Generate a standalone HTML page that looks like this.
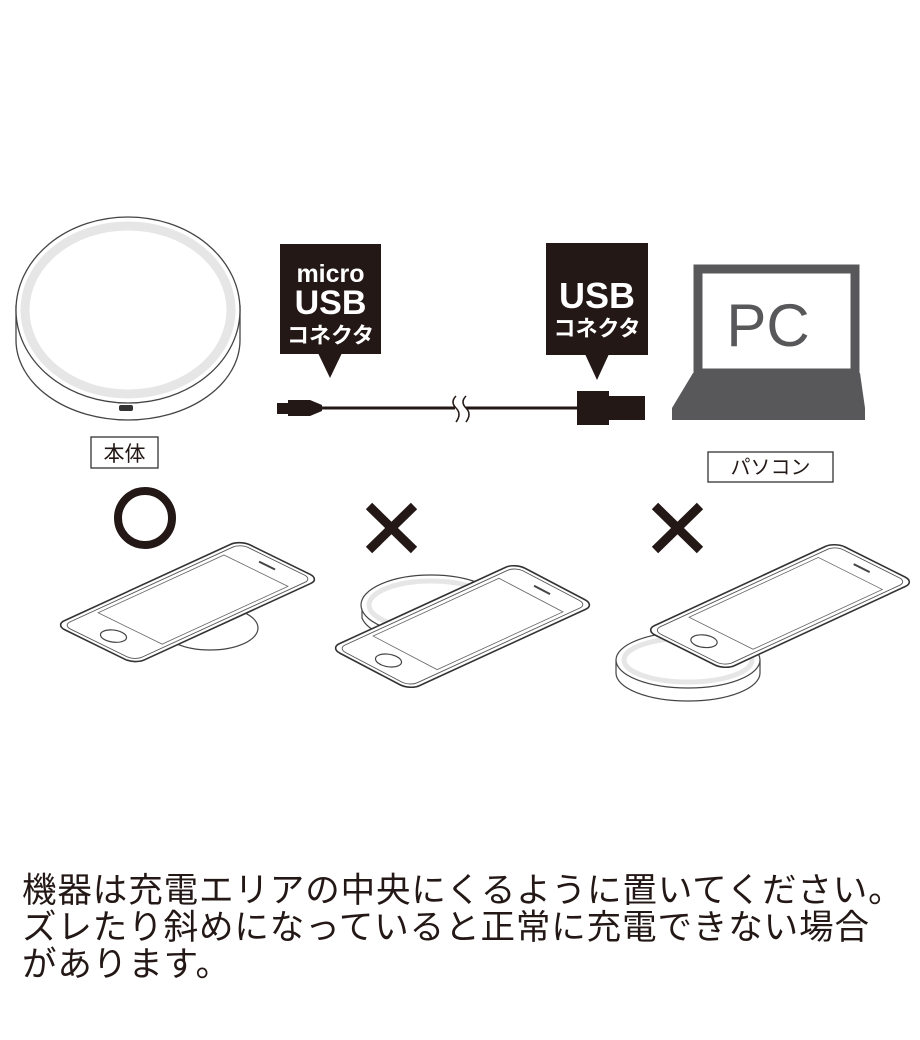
<!DOCTYPE html>
<html><head><meta charset="utf-8"><style>
body{margin:0;background:#fff;width:920px;height:1040px;overflow:hidden}
svg{position:absolute;left:0;top:0}
.t{position:absolute;left:22px;top:873px;font-family:"Liberation Sans","Noto Sans CJK JP",sans-serif;font-size:34.5px;line-height:37px;color:#231815;white-space:nowrap;letter-spacing:0.9px}
</style></head><body>
<svg width="920" height="1040" viewBox="0 0 920 1040" font-family="Liberation Sans, Noto Sans CJK JP, sans-serif">
<defs>
<g id="phone">
 <rect x="0" y="0" width="100" height="40" rx="5" fill="#fff" stroke="#333" stroke-width="1.6" vector-effect="non-scaling-stroke"/>
 <rect x="2" y="2" width="96" height="36" rx="4" fill="none" stroke="#555" stroke-width="0.9" vector-effect="non-scaling-stroke"/>
 <rect x="19" y="4" width="68" height="32" fill="none" stroke="#666" stroke-width="0.8" vector-effect="non-scaling-stroke"/>
 <ellipse cx="10" cy="20" rx="4.5" ry="5" fill="none" stroke="#444" stroke-width="1.2" vector-effect="non-scaling-stroke"/>
 <line x1="93" y1="16" x2="93" y2="24" stroke="#444" stroke-width="2" vector-effect="non-scaling-stroke"/>
</g>
</defs>
<path d="M16,305 L16,340 A112,80 0 0 0 240,340 L240,305" fill="#fff" stroke="#444" stroke-width="1.3"/>
<ellipse cx="128" cy="310" rx="112" ry="93" fill="#fff" stroke="#444" stroke-width="1.3"/>
<ellipse cx="128" cy="310" rx="103" ry="84" fill="none" stroke="#e6e6e6" stroke-width="9"/>
<rect x="119" y="405" width="14" height="6" rx="2" fill="#333"/>
<rect x="91" y="437" width="67" height="31" fill="#fff" stroke="#333" stroke-width="1.3"/>
<text x="124.5" y="461" font-size="21" text-anchor="middle" fill="#231815">本体</text>
<rect x="280" y="244" width="101" height="110" fill="#231815"/>
<polygon points="318,353 342,353 330,378" fill="#231815"/>
<text x="330.5" y="282" font-size="25" font-weight="bold" text-anchor="middle" fill="#fff">micro</text>
<text x="330.5" y="314" font-size="34" font-weight="bold" text-anchor="middle" fill="#fff">USB</text>
<text x="330.5" y="343" font-size="22" font-weight="bold" text-anchor="middle" fill="#fff">コネクタ</text>
<rect x="546" y="243" width="102" height="112" fill="#231815"/>
<polygon points="585,354 609,354 597,380" fill="#231815"/>
<text x="597" y="308" font-size="36" font-weight="bold" text-anchor="middle" fill="#fff">USB</text>
<text x="597" y="336" font-size="22" font-weight="bold" text-anchor="middle" fill="#fff">コネクタ</text>
<rect x="277" y="403" width="12" height="11" fill="#231815"/>
<path d="M288,400 L310,400 L322,405 L322,411 L310,416 L288,416 Z" fill="#231815"/>
<line x1="318" y1="408" x2="455" y2="408" stroke="#231815" stroke-width="3"/>
<path d="M456,396 q-6,6 0,12 q6,6 0,14" fill="none" stroke="#231815" stroke-width="1.5"/>
<path d="M466,396 q-6,6 0,12 q6,6 0,14" fill="none" stroke="#231815" stroke-width="1.5"/>
<line x1="466" y1="408" x2="580" y2="408" stroke="#231815" stroke-width="3"/>
<rect x="577" y="391" width="32" height="34" fill="#231815"/>
<rect x="605" y="396" width="40" height="24" fill="#231815"/>
<rect x="698" y="269" width="157" height="104" fill="#fff" stroke="#58585a" stroke-width="9"/>
<polygon points="693,373 860,373 865,408 865,420 672,420 672,408" fill="#58585a"/>
<text x="768" y="346" font-size="60" text-anchor="middle" fill="#58585a">PC</text>
<rect x="708" y="452" width="125" height="30" fill="#fff" stroke="#333" stroke-width="1.3"/>
<text x="770.5" y="474" font-size="20" text-anchor="middle" fill="#231815">パソコン</text>
<circle cx="145" cy="518" r="27" fill="none" stroke="#231815" stroke-width="8"/>
<g stroke="#231815" stroke-width="9"><line x1="369" y1="506" x2="414" y2="550"/><line x1="414" y1="506" x2="369" y2="550"/>
<line x1="655" y1="506" x2="700" y2="550"/><line x1="700" y1="506" x2="655" y2="550"/></g>
<ellipse cx="210" cy="628" rx="48" ry="22" fill="#fff" stroke="#444" stroke-width="1.2"/>
<path d="M362,608 L362,618 A70,30 0 0 0 500,618 L500,608" fill="#fff" stroke="#444" stroke-width="1.2"/>
<ellipse cx="431" cy="605" rx="70" ry="30" fill="#fff" stroke="#444" stroke-width="1.2"/>
<ellipse cx="431" cy="605" rx="62" ry="24" fill="none" stroke="#e6e6e6" stroke-width="5"/>
<path d="M616,660 L616,673 A72,28 0 0 0 760,673 L760,660" fill="#fff" stroke="#444" stroke-width="1.2"/>
<ellipse cx="688" cy="660" rx="72" ry="28" fill="#fff" stroke="#444" stroke-width="1.2"/>
<ellipse cx="688" cy="660" rx="64" ry="22" fill="none" stroke="#e6e6e6" stroke-width="5"/>
<use href="#phone" transform="matrix(1.85,-0.85,2.0,0.98,55,625)"/>
<use href="#phone" transform="matrix(1.85,-0.85,2.0,1.05,330,648)"/>
<use href="#phone" transform="matrix(1.9,-0.88,2.0,1.0,645,630)"/>
</svg>
<div class="t">機器は充電エリアの中央にくるように置いてください。<br>ズレたり斜めになっていると正常に充電できない場合<br>があります。</div>
</body></html>
